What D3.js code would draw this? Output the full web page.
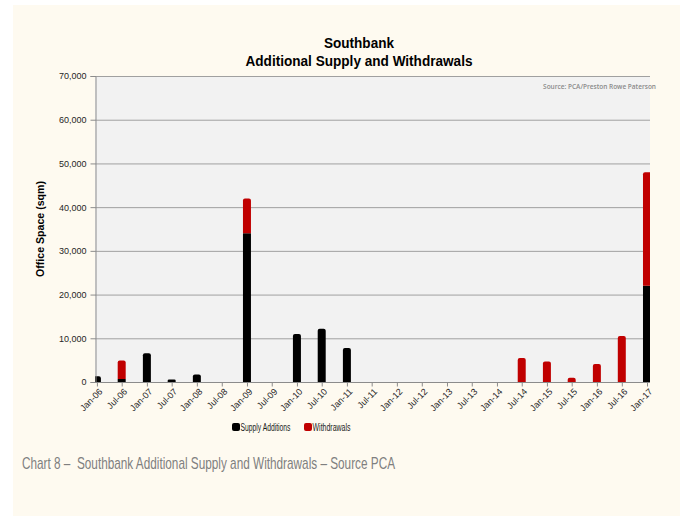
<!DOCTYPE html>
<html>
<head>
<meta charset="utf-8">
<script src="https://cdn.jsdelivr.net/npm/d3@7"></script>
<style>
  html, body { margin: 0; padding: 0; background: #ffffff; }
  svg { display: block; }
</style>
</head>
<body>
<svg id="chart" width="680" height="516"></svg>
<script>
// Half-yearly periods with office space in sqm
const periods = [
  "2006-01", "2006-07", "2007-01", "2007-07", "2008-01", "2008-07",
  "2009-01", "2009-07", "2010-01", "2010-07", "2011-01", "2011-07",
  "2012-01", "2012-07", "2013-01", "2013-07", "2014-01", "2014-07",
  "2015-01", "2015-07", "2016-01", "2016-07", "2017-01"
];
const supplyAdditions = [
  1300, 700, 6600, 600, 1700, 0,
  34000, 0, 11000, 12200, 7800, 0,
  0, 0, 0, 0, 0, 0,
  0, 0, 0, 0, 22000
];
const withdrawals = [
  0, 4200, 0, 0, 0, 0,
  8000, 0, 0, 0, 0, 0,
  0, 0, 0, 0, 0, 5500,
  4700, 1000, 4100, 10500, 26000
];
const seriesNames = ["Supply Additions", "Withdrawals"];
const seriesColors = ["#000000", "#c00000"];
const yTicks = [0, 10000, 20000, 30000, 40000, 50000, 60000, 70000];

const parse = d3.timeParse("%Y-%m");
const rows = periods.map((p, i) => ({
  date: parse(p),
  supply: supplyAdditions[i],
  withdrawals: withdrawals[i]
}));

const svg = d3.select("#chart");
const W = 680, H = 516;
const plot = { left: 95, right: 650, top: 76, bottom: 382 };

// cream page panel
svg.append("rect").attr("x", 13).attr("y", 5).attr("width", W - 13).attr("height", H - 5)
  .attr("fill", "#fefaf0");

const x = d3.scaleTime()
  .domain([d3.timeDay.offset(parse("2006-01"), -14), d3.timeDay.offset(parse("2017-01"), 22)])
  .range([plot.left, plot.right]);
const y = d3.scaleLinear().domain([0, 70000]).range([plot.bottom, plot.top]);

// plot background
svg.append("rect")
  .attr("x", plot.left).attr("y", plot.top)
  .attr("width", plot.right - plot.left).attr("height", plot.bottom - plot.top)
  .attr("fill", "#f2f2f2");

// horizontal gridlines
svg.append("g").selectAll("line").data(yTicks.filter(d => d > 0)).join("line")
  .attr("x1", plot.left).attr("x2", plot.right)
  .attr("y1", d => y(d) + 0.5).attr("y2", d => y(d) + 0.5)
  .attr("stroke", "#a0a0a0").attr("stroke-width", 1);

// clip bars to the plot area
svg.append("clipPath").attr("id", "plotClip").append("rect")
  .attr("x", plot.left).attr("y", plot.top - 5)
  .attr("width", plot.right - plot.left).attr("height", plot.bottom - plot.top + 5);

const stack = d3.stack().keys(["supply", "withdrawals"]);
const stacked = stack(rows);
const barW = 8;

const barsG = svg.append("g").attr("clip-path", "url(#plotClip)");
stacked.forEach((layer, li) => {
  barsG.append("g").selectAll("path")
    .data(layer.filter(d => d[1] - d[0] > 0))
    .join("path")
    .attr("fill", seriesColors[li])
    .attr("d", d => {
      const cx = x(d.data.date);
      const x0 = cx - barW / 2, x1 = cx + barW / 2;
      const yTop = y(d[1]), yBot = y(d[0]);
      // round the top corners of the topmost segment only
      const isTop = li === 1 || d.data.withdrawals === 0;
      const r = isTop ? Math.min(2, (yBot - yTop) / 2) : 0;
      return `M${x0},${yBot}L${x0},${yTop + r}Q${x0},${yTop} ${x0 + r},${yTop}` +
             `L${x1 - r},${yTop}Q${x1},${yTop} ${x1},${yTop + r}L${x1},${yBot}Z`;
    });
});

// y axis
const yAxis = svg.append("g")
  .attr("transform", `translate(${plot.left + 0.5},0)`)
  .call(d3.axisLeft(y).tickValues(yTicks).tickSize(5).tickPadding(4)
    .tickFormat(d3.format(",")));
yAxis.select(".domain").attr("stroke", "#8c8c8c");
yAxis.selectAll(".tick line").attr("stroke", "#8c8c8c");
yAxis.selectAll(".tick text")
  .attr("font-family", "Liberation Sans, Arial, sans-serif")
  .attr("font-size", 9).attr("fill", "#262626");

// x axis
const xAxis = svg.append("g")
  .attr("transform", `translate(0,${plot.bottom + 0.5})`)
  .call(d3.axisBottom(x).tickValues(rows.map(d => d.date)).tickSize(4).tickSizeOuter(0)
    .tickFormat(d3.timeFormat("%b-%y")));
xAxis.select(".domain").attr("stroke", "#8c8c8c")
  .attr("d", `M${plot.left},0H${plot.right}`);
xAxis.selectAll(".tick line").attr("stroke", "#8c8c8c");
xAxis.selectAll(".tick text")
  .attr("font-family", "Liberation Sans, Arial, sans-serif")
  .attr("font-size", 9).attr("fill", "#262626")
  .attr("text-anchor", "end")
  .attr("dy", null)
  .attr("x", 0).attr("y", 0)
  .attr("dominant-baseline", "middle")
  .attr("transform", "translate(4,8) rotate(-45)");

const fam = "Liberation Sans, Arial, sans-serif";

// titles
svg.append("text").attr("x", 359).attr("y", 48).attr("text-anchor", "middle")
  .attr("font-family", fam).attr("font-weight", "bold")
  .attr("font-size", 14).attr("fill", "#000")
  .attr("textLength", 70).attr("lengthAdjust", "spacingAndGlyphs")
  .text("Southbank");
svg.append("text").attr("x", 359).attr("y", 66).attr("text-anchor", "middle")
  .attr("font-family", fam).attr("font-weight", "bold")
  .attr("font-size", 14).attr("fill", "#000")
  .attr("textLength", 227).attr("lengthAdjust", "spacingAndGlyphs")
  .text("Additional Supply and Withdrawals");

// y axis title
svg.append("text")
  .attr("transform", `translate(44,${(plot.top + plot.bottom) / 2}) rotate(-90)`)
  .attr("text-anchor", "middle")
  .attr("font-family", fam).attr("font-weight", "bold")
  .attr("font-size", 10.5).attr("fill", "#000")
  .attr("textLength", 96).attr("lengthAdjust", "spacingAndGlyphs")
  .text("Office Space (sqm)");

// source note
svg.append("text").attr("x", 656).attr("y", 89).attr("text-anchor", "end")
  .attr("font-family", "Open Sans, sans-serif").attr("font-weight", "600")
  .attr("font-size", 6.5).attr("fill", "#8a8a8a")
  .text("Source: PCA/Preston Rowe Paterson");

// legend
const legend = svg.append("g").attr("transform", "translate(232,423)");
const legendX = [0, 72];
seriesNames.forEach((name, i) => {
  const g = legend.append("g").attr("transform", `translate(${legendX[i]},0)`);
  g.append("rect").attr("x", 0).attr("y", 0).attr("width", 8).attr("height", 8)
    .attr("rx", 2).attr("fill", seriesColors[i]);
  g.append("text").attr("x", 8.5).attr("y", 8)
    .attr("font-family", fam)
    .attr("font-size", 10).attr("fill", "#1a1a1a")
    .attr("textLength", i === 0 ? 50 : 38).attr("lengthAdjust", "spacingAndGlyphs")
    .text(name);
});

// caption
svg.append("text").attr("x", 22).attr("y", 469)
  .attr("font-family", fam)
  .attr("font-size", 17).attr("fill", "#7f7f7f")
  .style("white-space", "pre")
  .attr("textLength", 373).attr("lengthAdjust", "spacingAndGlyphs")
  .text("Chart 8 \u2013  Southbank Additional Supply and Withdrawals \u2013 Source PCA");
</script>
</body>
</html>
